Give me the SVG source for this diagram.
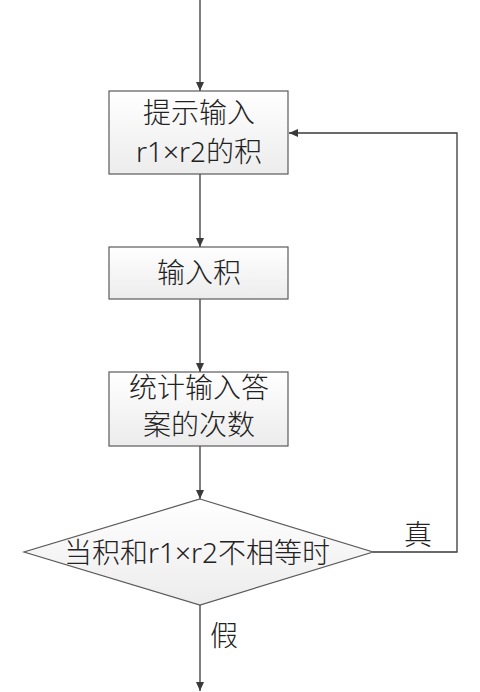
<svg xmlns="http://www.w3.org/2000/svg" width="480" height="692" viewBox="0 0 480 692">
<style>
.node{fill:url(#g);stroke:#5a5a5a;stroke-width:1.2}
.t{font-family:"Noto Sans","Noto Sans CJK SC",sans-serif;font-size:28px;font-weight:300;fill:#222;text-anchor:middle}
.c{fill:none;stroke:#3a3a3a;stroke-width:1.3}
</style>
<defs>
<linearGradient id="g" x1="0" y1="0" x2="0" y2="1"><stop offset="0" stop-color="#ffffff"/><stop offset="1" stop-color="#ececec"/></linearGradient>
<marker id="a" markerWidth="10" markerHeight="10" refX="9" refY="5" orient="auto" markerUnits="userSpaceOnUse"><path d="M0,1 L9,5 L0,9 Z" fill="#3a3a3a"/></marker>
</defs>
<rect width="480" height="692" fill="#fff"/>
<g id="connectors">
<line class="c" x1="200" y1="0" x2="200" y2="91" marker-end="url(#a)"/>
<line class="c" x1="200" y1="174" x2="200" y2="247" marker-end="url(#a)"/>
<line class="c" x1="200" y1="299" x2="200" y2="372" marker-end="url(#a)"/>
<line class="c" x1="200" y1="446" x2="200" y2="499" marker-end="url(#a)"/>
<line class="c" x1="200" y1="605" x2="200" y2="691" marker-end="url(#a)"/>
<polyline class="c" points="373,552 457,552 457,133 289,133" marker-end="url(#a)"/>
<text class="t" x="418" y="545">真</text>
<text class="t" x="224" y="646">假</text>
</g>
<g id="n1"><rect class="node" x="109" y="91" width="179" height="83"/><text class="t" x="199" y="123">提示输入</text><text class="t" x="199" y="162">r1×r2的积</text></g>
<g id="n2"><rect class="node" x="109" y="247" width="179" height="52"/><text class="t" x="199" y="283">输入积</text></g>
<g id="n3"><rect class="node" x="109" y="372" width="179" height="74"/><text class="t" x="199" y="398">统计输入答</text><text class="t" x="199" y="435">案的次数</text></g>
<g id="n4"><polygon class="node" points="200,499 373,552 200,605 24,552"/><text class="t" x="197" y="563">当积和r1×r2不相等时</text></g>
</svg>
